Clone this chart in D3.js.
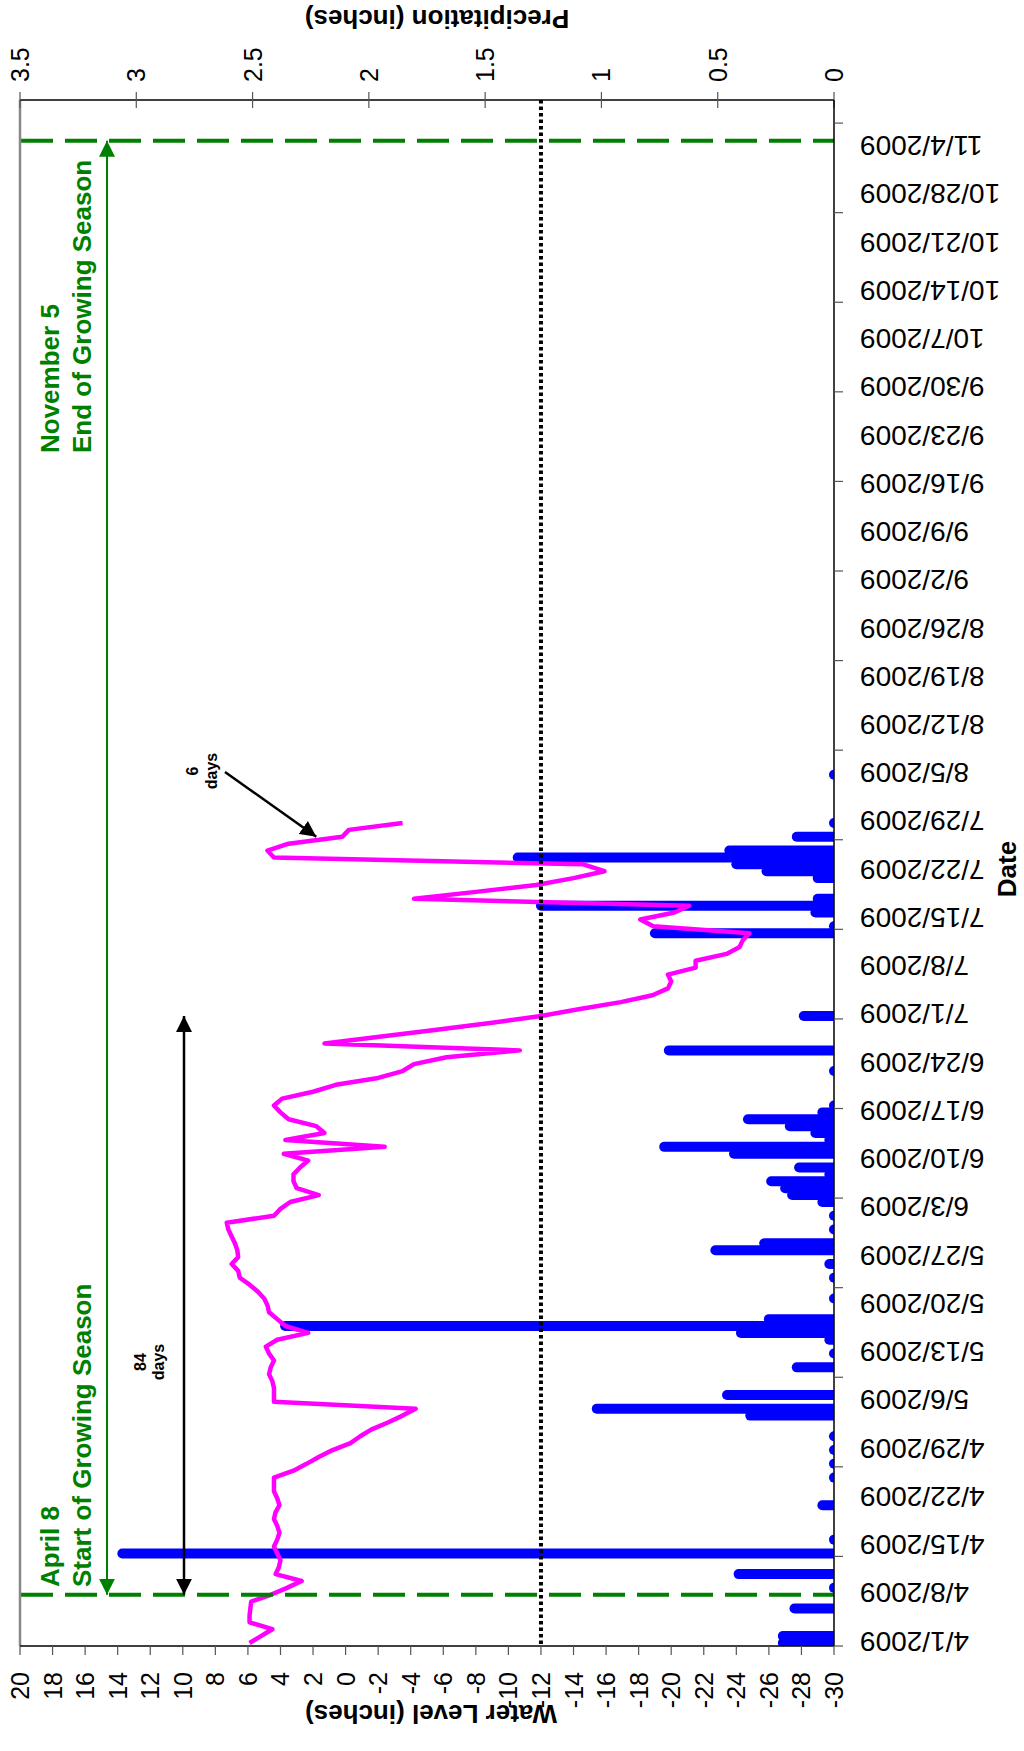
<!DOCTYPE html>
<html><head><meta charset="utf-8">
<script src="https://cdn.jsdelivr.net/npm/d3@7"></script>
<style>
html,body{margin:0;padding:0;background:#fff;}
svg{display:block;font-family:Arial,"Liberation Sans",sans-serif;}
</style></head>
<body><svg id="c" width="1024" height="1751"></svg>
<script>
// ---------- data ----------
const waterStart = "4/1/2009";
const waterLevel = [5.9,5.2,4.5,5.9,5.9,5.85,5.8,4.6,3.6,2.7,
 4.3,4.1,4.0,4.2,4.4,4.2,4.06,4.2,4.4,4.3,
 4.06,4.2,4.4,4.4,4.4,3.2,2.4,1.65,0.8,-0.3,
 -0.9,-1.6,-2.6,-3.5,-4.3,4.4,4.4,4.4,4.5,4.7,
 4.6,4.4,4.7,4.9,4.2,2.3,3.7,4.2,4.7,4.8,
 5.0,5.4,5.9,6.5,6.6,7.0,6.6,6.65,6.8,7.0,
 7.2,7.3,4.4,4.0,3.4,1.65,3.0,3.2,3.2,2.8,
 2.3,3.8,-2.4,3.7,1.3,1.8,3.5,4.0,4.4,3.9,
 2.0,0.6,-2.0,-3.5,-4.2,-6.2,-10.7,1.3,-2.2,-5.6,
 -9.0,-12.0,-14.4,-16.9,-18.85,-19.8,-20.0,-19.8,-21.5,-21.5,
 -23.4,-24.2,-24.4,-24.8,-18.9,-18.1,-20.2,-21.1,-4.2,-8.0,
 -11.7,-14.0,-15.9,-14.6,4.4,4.8,3.5,0.2,-0.2,-3.5];

const precipDates = ["4/1","4/2","4/6","4/9","4/11","4/14","4/16","4/21","4/25","4/27",
 "4/29","5/1","5/4","5/5","5/7","5/11","5/13","5/15","5/16","5/17",
 "5/18","5/21","5/24","5/26","5/28","5/29","5/31","6/2","6/4","6/5",
 "6/6","6/7","6/8","6/9","6/11","6/12","6/13","6/14","6/15","6/16",
 "6/17","6/18","6/23","6/26","7/1","7/13","7/14","7/16","7/17","7/18",
 "7/21","7/22","7/23","7/24","7/25","7/27","7/29","8/5"];
const precipValues = [0.22,0.22,0.17,0,0.41,3.06,0,0.05,0,0,
 0,0,0.36,1.02,0.46,0.16,0,0.02,0.40,2.36,
 0.28,0,0,0.02,0.51,0.30,0,0,0.05,0.18,
 0.21,0.27,0.02,0.15,0.43,0.73,0.02,0.08,0.19,0.37,
 0.05,0,0,0.71,0.13,0.77,0,0.08,1.26,0.07,
 0.07,0.29,0.42,1.36,0.45,0.16,0,0];

const dateLabels = ["4/1/2009","4/8/2009","4/15/2009","4/22/2009","4/29/2009","5/6/2009","5/13/2009","5/20/2009",
 "5/27/2009","6/3/2009","6/10/2009","6/17/2009","6/24/2009","7/1/2009","7/8/2009","7/15/2009","7/22/2009","7/29/2009",
 "8/5/2009","8/12/2009","8/19/2009","8/26/2009","9/2/2009","9/9/2009","9/16/2009","9/23/2009","9/30/2009",
 "10/7/2009","10/14/2009","10/21/2009","10/28/2009","11/4/2009"];
const waterTicks = [20,18,16,14,12,10,8,6,4,2,0,-2,-4,-6,-8,-10,-12,-14,-16,-18,-20,-22,-24,-26,-28,-30];
const precipTicks = [0,0.5,1,1.5,2,2.5,3,3.5];
const thresholdLevel = -12;
const seasonStart = "4/8/2009", seasonEnd = "11/5/2009";
const arrow84Start = "4/8/2009", arrow84End = "7/1/2009";
const arrow6Target = {date:"7/27/2009", level:1.8};

// ---------- helpers ----------
const parse = d3.utcParse("%m/%d/%Y");
const pd = s => parse(s.split("/").length===2 ? s+"/2009" : s);
const DAY = 864e5;

// ---------- layout ----------
const L=20, R=834, T=100, B=1646;
const t0 = new Date(parse("4/1/2009").getTime() - 0.435*DAY);
const t1 = new Date(t0.getTime() + (B-T)/6.891*DAY);

const y = d3.scaleUtc().domain([t0,t1]).range([B,T]);
const xW = d3.scaleLinear().domain([20,-30]).range([L,R]);
const xP = d3.scaleLinear().domain([0,3.5]).range([R,L]);

const svg = d3.select("#c");
svg.append("rect").attr("width",1024).attr("height",1751).attr("fill","#fff");

const defs = svg.append("defs");
defs.append("clipPath").attr("id","plotclip").append("rect")
  .attr("x",L).attr("y",T).attr("width",R-L).attr("height",B-T);
function marker(id,color){
  defs.append("marker").attr("id",id).attr("viewBox","0 0 10 10").attr("refX",10).attr("refY",5)
    .attr("markerUnits","userSpaceOnUse").attr("markerWidth",16).attr("markerHeight",16).attr("orient","auto-start-reverse")
    .append("path").attr("d","M0,0L10,5L0,10Z").attr("fill",color);
}
marker("ag","#008000"); marker("ak","#000");

// ---------- bars (precip) ----------
const plot = svg.append("g").attr("clip-path","url(#plotclip)");
plot.selectAll("line.bar").data(precipDates.map((d,i)=>({t:pd(d),v:precipValues[i]})))
  .join("line").attr("class","bar")
  .attr("x1",xP(0)).attr("x2",d=>Math.min(xP(d.v), xP(0)-0.01))
  .attr("y1",d=>y(d.t)).attr("y2",d=>y(d.t))
  .attr("stroke","#0000ff").attr("stroke-width",10).attr("stroke-linecap","round");

// ---------- water level line ----------
const ws = parse(waterStart);
const wdata = waterLevel.map((v,i)=>({t:d3.utcDay.offset(ws,i),v}));
plot.append("path").datum(wdata)
  .attr("d",d3.line().x(d=>xW(d.v)).y(d=>y(d.t)))
  .attr("fill","none").attr("stroke","#ff00ff").attr("stroke-width",4.5).attr("stroke-linejoin","round");

// ---------- threshold dotted ----------
svg.append("line").attr("x1",xW(thresholdLevel)).attr("x2",xW(thresholdLevel)).attr("y1",T).attr("y2",B)
  .attr("stroke","#000").attr("stroke-width",4).attr("stroke-dasharray","3.5,3");

// ---------- growing season dashed ----------
[seasonStart,seasonEnd].forEach(s=>{
  svg.append("line").attr("x1",L).attr("x2",R).attr("y1",y(parse(s))).attr("y2",y(parse(s)))
    .attr("stroke","#008000").attr("stroke-width",4).attr("stroke-dasharray","32,12").attr("stroke-dashoffset",-1);
});

// ---------- frame & axes ----------
svg.append("line").attr("x1",L).attr("x2",L).attr("y1",T).attr("y2",B).attr("stroke","#888").attr("stroke-width",2.5);
// bottom water axis
const gB = svg.append("g");
gB.append("line").attr("x1",L).attr("x2",R).attr("y1",B).attr("y2",B).attr("stroke","#000").attr("stroke-width",1.5);
gB.selectAll("line.t").data(waterTicks).join("line").attr("class","t")
  .attr("x1",d=>xW(d)).attr("x2",d=>xW(d)).attr("y1",B).attr("y2",B+9).attr("stroke","#555").attr("stroke-width",1.2);
gB.selectAll("text").data(waterTicks).join("text")
  .attr("transform",d=>`translate(${xW(d)},${B+26}) rotate(-90)`)
  .attr("text-anchor","end").attr("dominant-baseline","central").attr("font-size",25).text(d=>d);
svg.append("text").attr("transform",`translate(${(L+R)/2+4},${1714}) rotate(180)`)
  .attr("text-anchor","middle").attr("dominant-baseline","central").attr("font-size",26).attr("font-weight","bold")
  .text("Water Level (inches)");
// top precip axis
const gT = svg.append("g");
gT.append("line").attr("x1",L).attr("x2",R).attr("y1",T).attr("y2",T).attr("stroke","#000").attr("stroke-width",1.5);
gT.selectAll("line.t").data(precipTicks).join("line").attr("class","t")
  .attr("x1",d=>xP(d)).attr("x2",d=>xP(d)).attr("y1",T-8).attr("y2",T+8).attr("stroke","#555").attr("stroke-width",1.2);
gT.selectAll("text").data(precipTicks).join("text")
  .attr("transform",d=>`translate(${xP(d)},${T-18}) rotate(-90)`)
  .attr("text-anchor","start").attr("dominant-baseline","central").attr("font-size",25).text(d=>d);
svg.append("text").attr("transform",`translate(${(L+R)/2+10},${19}) rotate(180)`)
  .attr("text-anchor","middle").attr("dominant-baseline","central").attr("font-size",26).attr("font-weight","bold")
  .text("Precipitation (inches)");
// right date axis
const gR = svg.append("g");
gR.append("line").attr("x1",R).attr("x2",R).attr("y1",T).attr("y2",B).attr("stroke","#000").attr("stroke-width",1.5);
const tickTimes = d3.range(0, (t1-t0)/DAY, 13).map(k=>new Date(t0.getTime()+k*DAY));
gR.selectAll("line.t").data(tickTimes).join("line").attr("class","t")
  .attr("x1",R).attr("x2",R+9).attr("y1",d=>y(d)).attr("y2",d=>y(d)).attr("stroke","#555").attr("stroke-width",1.2);
gR.selectAll("text").data(dateLabels).join("text")
  .attr("transform",d=>`translate(${860},${y(parse(d))-2}) rotate(180)`)
  .attr("text-anchor","end").attr("dominant-baseline","central").attr("font-size",28).text(d=>d);
svg.append("text").attr("transform",`translate(${1007},${(T+B)/2-4}) rotate(-90)`)
  .attr("text-anchor","middle").attr("dominant-baseline","central").attr("font-size",26).attr("font-weight","bold")
  .text("Date");

// ---------- annotations ----------
const gx = 107;
svg.append("line").attr("x1",gx).attr("x2",gx).attr("y1",y(parse(seasonStart))).attr("y2",y(parse(seasonEnd)))
  .attr("stroke","#008000").attr("stroke-width",2)
  .attr("marker-start","url(#ag)").attr("marker-end","url(#ag)");
function vtext(lines, x0, dx, yy, anchor, size, color, weight){
  lines.forEach((s,i)=>{
    svg.append("text").attr("transform",`translate(${x0+i*dx},${yy}) rotate(-90)`)
      .attr("text-anchor",anchor).attr("dominant-baseline","central")
      .attr("font-size",size).attr("font-weight",weight).attr("fill",color).text(s);
  });
}
vtext(["November 5","End of Growing Season"],50,32,453,"start",26,"#008000","bold");
vtext(["April 8","Start of Growing Season"],50,32,1587,"start",26,"#008000","bold");

const bx = 184;
svg.append("line").attr("x1",bx).attr("x2",bx).attr("y1",y(parse(arrow84Start))).attr("y2",y(parse(arrow84End)))
  .attr("stroke","#000").attr("stroke-width",2.5)
  .attr("marker-start","url(#ak)").attr("marker-end","url(#ak)");
vtext(["84","days"],140,18,1362,"middle",16,"#000","bold");

svg.append("line").attr("x1",225).attr("y1",772)
  .attr("x2",xW(arrow6Target.level)).attr("y2",y(parse(arrow6Target.date)))
  .attr("stroke","#000").attr("stroke-width",2.5).attr("marker-end","url(#ak)");
vtext(["6","days"],192,19,771,"middle",16,"#000","bold");
</script></body></html>
